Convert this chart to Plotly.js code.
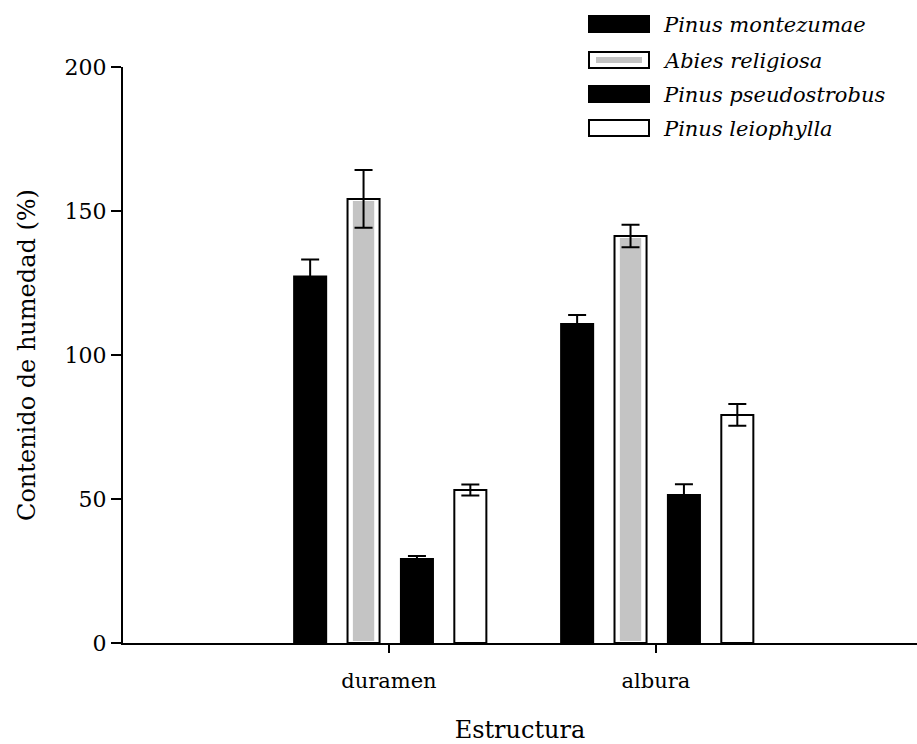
<!DOCTYPE html>
<html>
<head>
<meta charset="utf-8">
<script src="https://cdn.plot.ly/plotly-3.0.1.min.js"></script>
<style>html,body{margin:0;padding:0;background:#fff;}#chart{width:917px;height:744px;}</style>
</head>
<body>
<div id="chart"></div>
<script>
// ---- data ----
const categories = ["duramen", "albura"];
const seriesNames = ["Pinus montezumae", "Abies religiosa", "Pinus pseudostrobus", "Pinus leiophylla"];
const montezumae = [127.3, 110.8];
const montezumaeErr = [5.9, 3.1];
const religiosa = [154.2, 141.3];
const religiosaErr = [10.0, 3.9];
const pseudostrobus = [29.2, 51.4];
const pseudostrobusErr = [1.0, 3.7];
const leiophylla = [53.1, 79.2];
const leiophyllaErr = [1.9, 3.8];
const yTicks = [0, 50, 100, 150, 200];

const xPos = categories.map((c, i) => i);
const serif = "DejaVu Serif";
const barW = 0.12;
const errStyle = (arr) => ({type: 'data', array: arr, visible: true, color: '#000', thickness: 2, width: 9});

const traces = [
  {type: 'bar', x: xPos, y: montezumae, offset: -0.355, width: barW,
   marker: {color: '#000', line: {color: '#000', width: 2}}, error_y: errStyle(montezumaeErr), showlegend: false},
  // Abies inner grey fill
  {type: 'bar', x: xPos, y: religiosa, offset: -0.155 + 0.0125, width: barW - 0.025,
   marker: {color: '#c4c4c4', line: {color: '#fff', width: 4}}, showlegend: false, hoverinfo: 'skip'},
  // Abies outline
  {type: 'bar', x: xPos, y: religiosa, offset: -0.155, width: barW,
   marker: {color: 'rgba(0,0,0,0)', line: {color: '#000', width: 2}}, error_y: errStyle(religiosaErr), showlegend: false},
  {type: 'bar', x: xPos, y: pseudostrobus, offset: 0.045, width: barW,
   marker: {color: '#000', line: {color: '#000', width: 2}}, error_y: errStyle(pseudostrobusErr), showlegend: false},
  {type: 'bar', x: xPos, y: leiophylla, offset: 0.245, width: barW,
   marker: {color: '#fff', line: {color: '#000', width: 2}}, error_y: errStyle(leiophyllaErr), showlegend: false}
];

// custom legend (paper coords)
const W = 794, H = 576, L = 123, T = 67;
const px = v => (v - L) / W;
const py = v => (T + H - v) / H;
const rowsY = [24, 60, 94, 128];
const fills = ['#000', '#fff', '#000', '#fff'];
const shapes = [];
const annotations = [];
seriesNames.forEach((name, i) => {
  const yc = rowsY[i];
  shapes.push({type: 'rect', xref: 'paper', yref: 'paper', x0: px(589), x1: px(649), y0: py(yc - 8), y1: py(yc + 8),
    fillcolor: fills[i], line: {color: '#000', width: 2}});
  if (i === 1) {
    shapes.push({type: 'rect', xref: 'paper', yref: 'paper', x0: px(596), x1: px(642), y0: py(yc - 3), y1: py(yc + 3),
      fillcolor: '#c4c4c4', line: {width: 0}});
  }
  annotations.push({xref: 'paper', yref: 'paper', x: px(661), y: py(yc + 1), xanchor: 'left', yanchor: 'middle',
    text: '<i>' + name + '</i>', showarrow: false, font: {family: serif, size: 21, color: '#000'}});
});

const layout = {
  width: 917, height: 744,
  margin: {l: 123, r: 0, t: 67, b: 101},
  paper_bgcolor: '#fff', plot_bgcolor: '#fff',
  barmode: 'overlay',
  showlegend: false,
  font: {family: serif, color: '#000'},
  xaxis: {
    range: [-0.996, 1.978], tickvals: xPos, ticktext: categories,
    showline: true, linecolor: '#000', linewidth: 2, showgrid: false, zeroline: false,
    ticks: 'outside', ticklen: 8, tickwidth: 1.5, tickcolor: '#000',
    tickfont: {family: serif, size: 21, color: '#000'}, ticklabelstandoff: 10,
    title: {text: 'Estructura', font: {family: serif, size: 24, color: '#000'}, standoff: 30}
  },
  yaxis: {
    range: [0, 200], tickvals: yTicks, ticktext: yTicks.map(String),
    showline: true, linecolor: '#000', linewidth: 2, showgrid: false, zeroline: false,
    ticks: 'outside', ticklen: 10, tickwidth: 1.5, tickcolor: '#000',
    tickfont: {family: serif, size: 22, color: '#000'},
    title: {text: 'Contenido de humedad (%)', font: {family: serif, size: 24, color: '#000'}, standoff: 22}
  },
  shapes: shapes,
  annotations: annotations
};

Plotly.newPlot('chart', traces, layout, {displayModeBar: false, staticPlot: true});
</script>
</body>
</html>
